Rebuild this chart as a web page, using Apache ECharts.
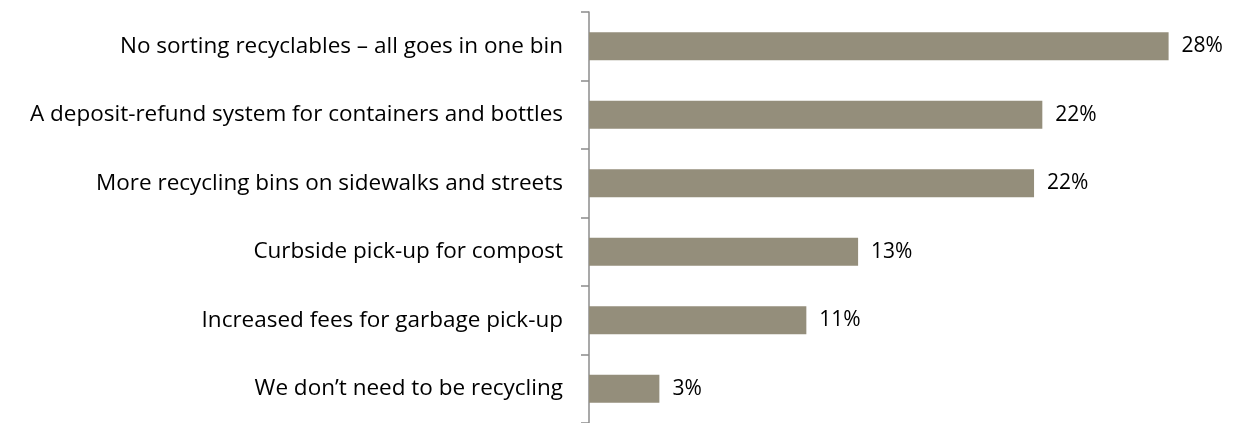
<!DOCTYPE html>
<html lang="en">
<head>
    <meta charset="UTF-8">
    <title>Recycling options</title>
    <script src="https://cdn.jsdelivr.net/npm/echarts@6.0.0/dist/echarts.min.js"></script>
    <style>
        html, body { margin: 0; padding: 0; background: #fff; }
        #main { width: 1234px; height: 423px; }
    </style>
</head>
<body>
    <div id="main"></div>
    <script>
        var categories = [
            'No sorting recyclables \u2013 all goes in one bin',
            'A deposit-refund system for containers and bottles',
            'More recycling bins on sidewalks and streets',
            'Curbside pick-up for compost',
            'Increased fees for garbage pick-up',
            'We don\u2019t need to be recycling'
        ];
        var values = [28.0, 21.9, 21.5, 13.0, 10.5, 3.4];
        var valueLabels = ['28%', '22%', '22%', '13%', '11%', '3%'];

        var chart = echarts.init(document.getElementById('main'));

        chart.setOption({
            animation: false,
            grid: {
                left: 589,
                top: 12,
                width: 621,
                height: 419
            },
            xAxis: {
                type: 'value',
                min: 0,
                max: 30,
                show: false
            },
            yAxis: {
                type: 'category',
                inverse: true,
                data: categories,
                axisLine: { lineStyle: { color: '#8c8c8c', width: 1.5 } },
                axisTick: { show: true, length: 8, lineStyle: { color: '#8c8c8c', width: 1.5 } },
                axisLabel: {
                    margin: 26,
                    color: '#000',
                    fontSize: 22.5,
                    fontFamily: 'Open Sans'
                }
            },
            series: [{
                type: 'bar',
                barWidth: 28,
                data: values,
                itemStyle: { color: '#948e7b' },
                label: {
                    show: true,
                    position: 'right',
                    distance: 13,
                    color: '#000',
                    fontSize: 21,
                    fontFamily: 'Open Sans',
                    formatter: function (p) { return valueLabels[p.dataIndex]; }
                }
            }]
        });
    </script>
</body>
</html>
